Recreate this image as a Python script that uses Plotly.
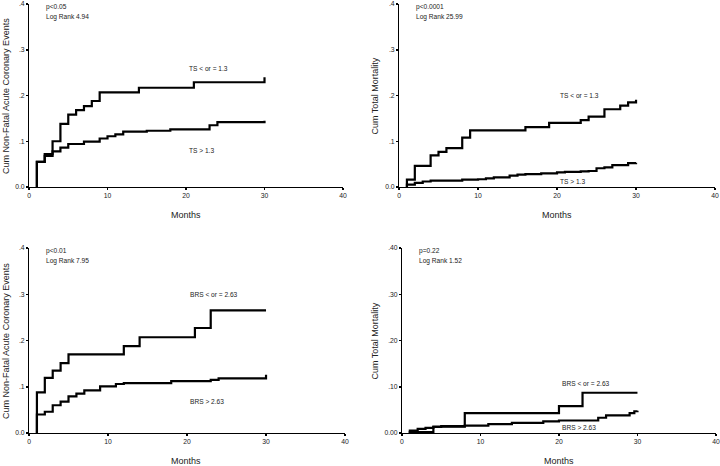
import plotly.graph_objects as go

# ---------------- data ----------------
months_ticks = [0, 10, 20, 30, 40]
y_tickvals = [0.0, 0.1, 0.2, 0.3, 0.4]
y_ticktext_a = ["0.0", ".1", ".2", ".3", ".4"]
y_ticktext_b = ["0.00", ".10", ".20", ".30", ".40"]

# Panel 1: Cum Non-Fatal Acute Coronary Events by TS
p1_hi_x = [1, 1, 2, 3, 4, 5, 6, 7, 8, 9, 14, 21, 30, 30]
p1_hi_y = [0, 0.055, 0.072, 0.100, 0.138, 0.158, 0.168, 0.177, 0.188, 0.207, 0.217, 0.229, 0.229, 0.240]
p1_lo_x = [1, 1, 2, 3, 4, 5, 7, 9, 10, 11, 12, 15, 18, 23, 24, 30]
p1_lo_y = [0, 0.055, 0.068, 0.078, 0.086, 0.094, 0.099, 0.106, 0.111, 0.115, 0.121, 0.123, 0.126, 0.135, 0.142, 0.145]

# Panel 2: Cum Total Mortality by TS
p2_hi_x = [1, 1, 2, 4, 5, 6, 8, 9, 16, 19, 23, 24, 26, 28, 29, 30]
p2_hi_y = [0, 0.016, 0.046, 0.069, 0.077, 0.085, 0.108, 0.124, 0.131, 0.140, 0.146, 0.154, 0.170, 0.178, 0.185, 0.191]
p2_lo_x = [1, 1, 2, 3, 4, 8, 10, 11, 12, 14, 15, 16, 18, 20, 21, 23, 24, 25, 26, 27, 29, 30]
p2_lo_y = [0, 0.005, 0.009, 0.012, 0.014, 0.016, 0.017, 0.019, 0.021, 0.025, 0.027, 0.028, 0.030, 0.032, 0.033, 0.034, 0.035, 0.041, 0.043, 0.048, 0.052, 0.053]

# Panel 3: Cum Non-Fatal Acute Coronary Events by BRS
p3_hi_x = [1, 1, 2, 3, 4, 5, 12, 14, 21, 23, 30]
p3_hi_y = [0, 0.088, 0.119, 0.135, 0.151, 0.170, 0.188, 0.207, 0.227, 0.265, 0.265]
p3_lo_x = [1, 1, 2, 3, 4, 5, 6, 7, 9, 11, 12, 18, 23, 24, 30, 30]
p3_lo_y = [0, 0.040, 0.046, 0.060, 0.068, 0.079, 0.085, 0.092, 0.101, 0.106, 0.108, 0.112, 0.115, 0.118, 0.118, 0.126]

# Panel 4: Cum Total Mortality by BRS
p4_hi_x = [1, 1, 4, 8, 20, 23, 30]
p4_hi_y = [0, 0.002, 0.014, 0.043, 0.058, 0.087, 0.087]
p4_lo_x = [1, 1, 2, 3, 4, 5, 8, 11, 14, 18, 20, 25, 26, 29, 29.6, 30]
p4_lo_y = [0, 0.005, 0.009, 0.011, 0.013, 0.015, 0.016, 0.019, 0.022, 0.025, 0.027, 0.033, 0.038, 0.043, 0.047, 0.048]

panels = [
    dict(hi=(p1_hi_x, p1_hi_y), lo=(p1_lo_x, p1_lo_y), ytitle="Cum Non-Fatal Acute Coronary Events",
         ytext=y_ticktext_a, p="p<0.05", lr="Log Rank 4.94",
         hi_lab="TS < or = 1.3", lo_lab="TS > 1.3", hi_lab_y=0.26, lo_lab_y=0.079),
    dict(hi=(p2_hi_x, p2_hi_y), lo=(p2_lo_x, p2_lo_y), ytitle="Cum Total Mortality",
         ytext=y_ticktext_a, p="p<0.0001", lr="Log Rank 25.99",
         hi_lab="TS < or = 1.3", lo_lab="TS > 1.3", hi_lab_y=0.201, lo_lab_y=0.011),
    dict(hi=(p3_hi_x, p3_hi_y), lo=(p3_lo_x, p3_lo_y), ytitle="Cum Non-Fatal Acute Coronary Events",
         ytext=y_ticktext_a, p="p<0.01", lr="Log Rank 7.95",
         hi_lab="BRS < or = 2.63", lo_lab="BRS > 2.63", hi_lab_y=0.30, lo_lab_y=0.069),
    dict(hi=(p4_hi_x, p4_hi_y), lo=(p4_lo_x, p4_lo_y), ytitle="Cum Total Mortality",
         ytext=y_ticktext_b, p="p=0.22", lr="Log Rank 1.52",
         hi_lab="BRS < or = 2.63", lo_lab="BRS > 2.63", hi_lab_y=0.108, lo_lab_y=0.011),
]

x_domains = [[0.0403, 0.4764], [0.5542, 0.9931], [0.0403, 0.4792], [0.5583, 0.9944]]
y_domains = [[0.5987, 0.9914], [0.5987, 0.9914], [0.0708, 0.4678], [0.0708, 0.4678]]
xtitle_pos = [(0.2583, 0.5386), (0.7736, 0.5386), (0.2583, 0.0107), (0.7764, 0.0107)]
ytitle_pos = [(0.0075, 0.795), (0.5208, 0.795), (0.0075, 0.2693), (0.5208, 0.2693)]

FONT = "Liberation Sans, Arial, sans-serif"
TXT = "#222222"

fig = go.Figure()
annotations = []
for i, pnl in enumerate(panels):
    n = i + 1
    xa = "x" if n == 1 else f"x{n}"
    ya = "y" if n == 1 else f"y{n}"
    for key in ("hi", "lo"):
        xs, ys = pnl[key]
        fig.add_trace(go.Scatter(x=xs, y=ys, mode="lines", line=dict(shape="hv", color="black", width=2.2),
                                 xaxis=xa, yaxis=ya, showlegend=False, hoverinfo="skip"))
    axis_common = dict(showline=True, linecolor="black", linewidth=1, ticks="outside", ticklen=2,
                       tickcolor="black", tickwidth=1.5, showgrid=False, zeroline=False, automargin=False,
                       tickfont=dict(family=FONT, size=6.8, color=TXT))
    fig.layout[f"xaxis{'' if n == 1 else n}"] = dict(
        domain=x_domains[i], anchor=ya, range=[0, 40], tickvals=months_ticks,
        ticklabeloverflow="allow", **axis_common)
    fig.layout[f"yaxis{'' if n == 1 else n}"] = dict(
        domain=y_domains[i], anchor=xa, range=[0, 0.4], tickvals=y_tickvals, ticktext=pnl["ytext"],
        **axis_common)
    for txt, xv, yv in [(pnl["p"], 1.9, 0.393), (pnl["lr"], 1.9, 0.371),
                        (pnl["hi_lab"], 20.1, pnl["hi_lab_y"]), (pnl["lo_lab"], 20.1, pnl["lo_lab_y"])]:
        annotations.append(dict(text=txt, x=xv, y=yv, xref=xa, yref=ya, xanchor="left", yanchor="middle",
                                showarrow=False, font=dict(family=FONT, size=6.6, color=TXT)))
    tx, ty = xtitle_pos[i]
    annotations.append(dict(text="Months", x=tx, y=ty, xref="paper", yref="paper", xanchor="center",
                            yanchor="middle", showarrow=False, font=dict(family=FONT, size=9, color=TXT)))
    yx, yy = ytitle_pos[i]
    annotations.append(dict(text=pnl["ytitle"], x=yx, y=yy, xref="paper", yref="paper", xanchor="center",
                            yanchor="middle", textangle=-90, showarrow=False,
                            font=dict(family=FONT, size=9, color=TXT)))

fig.update_layout(width=720, height=466, margin=dict(l=0, r=0, t=0, b=0, pad=0), template="none",
                  paper_bgcolor="white", plot_bgcolor="white", annotations=annotations, hovermode=False)
fig.write_html("out.html", config={"displayModeBar": False, "staticPlot": True},
               post_script="document.body.style.margin='0';document.body.style.overflow='hidden';")
